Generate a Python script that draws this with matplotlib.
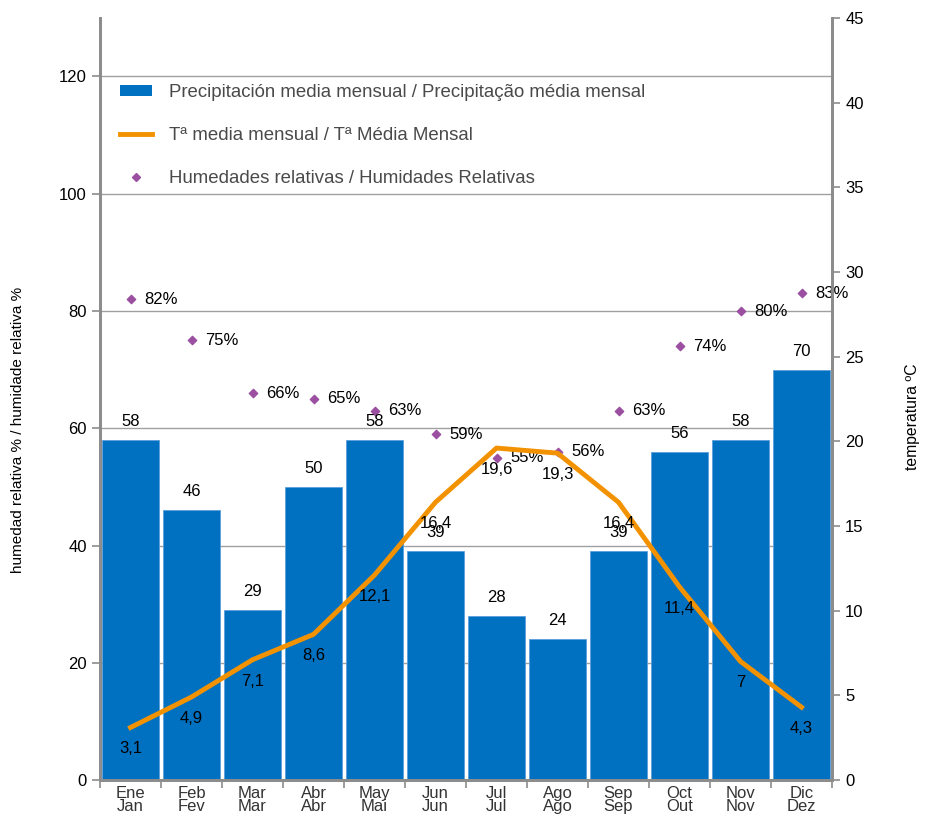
import matplotlib.pyplot as plt
import numpy as np
from matplotlib.lines import Line2D
from matplotlib.patches import Patch

plt.rcParams['font.family'] = ['Liberation Sans', 'DejaVu Sans']

# datos mensuales
meses = ['Ene\nJan', 'Feb\nFev', 'Mar\nMar', 'Abr\nAbr', 'May\nMai', 'Jun\nJun',
         'Jul\nJul', 'Ago\nAgo', 'Sep\nSep', 'Oct\nOut', 'Nov\nNov', 'Dic\nDez']
precipitacion = [58, 46, 29, 50, 58, 39, 28, 24, 39, 56, 58, 70]
temperatura = [3.1, 4.9, 7.1, 8.6, 12.1, 16.4, 19.6, 19.3, 16.4, 11.4, 7, 4.3]
humedad = [82, 75, 66, 65, 63, 59, 55, 56, 63, 74, 80, 83]

azul = '#0070C0'
naranja = '#F39200'
morado = '#9B4FA0'
gris = '#8C8C8C'

fig = plt.figure(figsize=(9.26, 8.16), dpi=100)
ax = fig.add_axes([0.108, 0.0441, 0.7905, 0.934])
ax2 = ax.twinx()

x = np.arange(len(meses))

# barras de precipitacion
ax.bar(x, precipitacion, width=0.94, color=azul, edgecolor='#5AA0DC', linewidth=0.6, zorder=2)
for i, v in enumerate(precipitacion):
    ax.annotate(str(v), (x[i], v), xytext=(0, 8), textcoords='offset points',
                ha='center', va='bottom', fontsize=12, zorder=5)

# humedad relativa
ax.scatter(x, humedad, marker='D', s=18, color=morado, zorder=4)
for i, v in enumerate(humedad):
    ax.annotate(f'{v}%', (x[i], v), xytext=(10, 0), textcoords='offset points',
                ha='left', va='center', fontsize=12, zorder=5)

ax.set_xlim(-0.5, 11.5)
ax.set_ylim(0, 130)
ax.set_yticks(np.arange(0, 121, 20))
ax.grid(axis='y', color='#A0A0A0', linewidth=1, zorder=0)
ax.set_axisbelow(True)
ax.set_xticks(x)
ax.set_xticklabels(meses, fontsize=12, linespacing=0.85)
ax.set_xticks(np.arange(-0.5, 12, 1), minor=True)
ax.tick_params(axis='x', which='major', length=0, pad=4, colors='#333333')
ax.tick_params(axis='x', which='minor', length=6, color=gris, width=1.2)
ax.tick_params(axis='y', length=6, color=gris, width=1.2, labelsize=12)

# temperatura media
ax2.plot(x, temperatura, color=naranja, linewidth=3.5, zorder=3)
for i, v in enumerate(temperatura):
    ax2.annotate(f'{v:g}'.replace('.', ','), (x[i], v), xytext=(0, -10), textcoords='offset points',
                 ha='center', va='top', fontsize=12, zorder=5)
ax2.set_ylim(0, 45)
ax2.set_yticks(np.arange(0, 46, 5))
ax2.tick_params(axis='y', length=6, color=gris, width=1.2, labelsize=12)

# titulos de los ejes
fig.text(18 / 926, 1 - 430 / 816, 'humedad relativa % / humidade relativa %', rotation=90,
         ha='center', va='center', fontsize=11)
fig.text(912 / 926, 1 - 417 / 816, 'temperatura ºC', rotation=90,
         ha='center', va='center', fontsize=11.3)

for a in (ax, ax2):
    a.spines['top'].set_visible(False)
    for s in ('left', 'right', 'bottom'):
        a.spines[s].set_color(gris)
        a.spines[s].set_linewidth(2)

# leyenda
handles = [
    Patch(facecolor=azul),
    Line2D([0], [0], color=naranja, linewidth=3.5),
    Line2D([0], [0], marker='D', color=morado, linestyle='none', markersize=4),
]
etiquetas = ['Precipitación media mensual / Precipitação média mensal',
             'Tª media mensual / Tª Média Mensal',
             'Humedades relativas / Humidades Relativas']
ax2.legend(handles, etiquetas, loc='upper left', bbox_to_anchor=(0.005, 0.935), frameon=False,
           fontsize=13.4, labelspacing=1.38, handlelength=1.7, handleheight=0.5,
           handletextpad=0.9, labelcolor='#4A4A4A')

fig.savefig('out.png', dpi=100)
